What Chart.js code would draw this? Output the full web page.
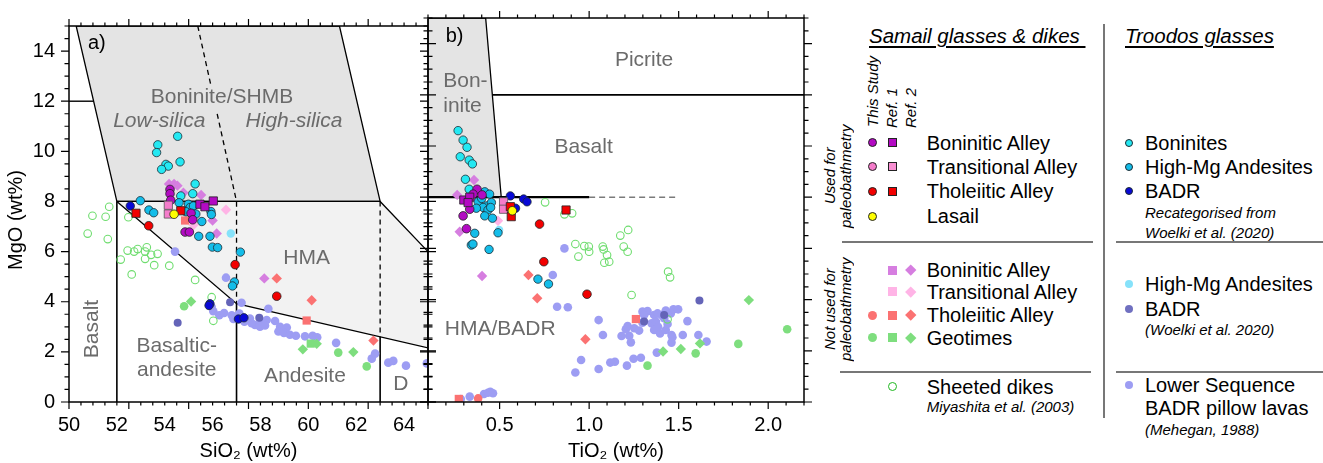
<!DOCTYPE html>
<html><head><meta charset="utf-8">
<script src="https://cdn.jsdelivr.net/npm/chart.js@4.4.1/dist/chart.umd.min.js"></script>
<style>
html,body{margin:0;padding:0;background:#fff;}
body{position:relative;width:1323px;height:463px;overflow:hidden;font-family:"Liberation Sans",Arial,Helvetica,sans-serif;color:#000;}
canvas{position:absolute;top:0;}
#ca{left:0;}
#cb{left:415px;}
.t{position:absolute;white-space:nowrap;font-size:20px;line-height:22px;}
.n{position:absolute;white-space:nowrap;font-size:15px;line-height:16px;font-style:italic;}
.h{position:absolute;white-space:nowrap;font-size:20.5px;line-height:22px;font-style:italic;text-decoration:underline;text-decoration-thickness:1.5px;text-underline-offset:3px;}
.v{position:absolute;white-space:nowrap;font-size:15px;line-height:16px;font-style:italic;writing-mode:vertical-rl;transform:rotate(180deg);text-align:center;}
.sym{position:absolute;box-sizing:border-box;width:9px;height:9px;}
.cb{border-radius:50%;border:1px solid #222;}
.sb{border:1px solid #222;}
.ci{border-radius:50%;}
.dm{width:7.5px;height:7.5px;transform:rotate(45deg);}
.tc{position:absolute;box-sizing:border-box;width:8px;height:8px;border-radius:50%;}
.hl{position:absolute;height:2px;background:#777;}
</style></head>
<body>
<canvas id="ca" width="440" height="463" style="width:440px;height:463px"></canvas>
<canvas id="cb" width="400" height="463" style="width:400px;height:463px"></canvas>

<!-- legend -->
<div class="h" style="left:869px;top:25px">Samail glasses &amp; dikes&nbsp;</div>
<div class="h" style="left:1125px;top:25px">Troodos glasses</div>
<div style="position:absolute;left:1103px;top:24px;width:2px;height:394px;background:#777"></div>
<div class="hl" style="left:842px;top:241px;width:251px"></div>
<div class="hl" style="left:1116px;top:241px;width:207px"></div>
<div class="hl" style="left:840px;top:371px;width:251px"></div>
<div class="hl" style="left:1116px;top:371px;width:207px"></div>

<div class="v" style="left:865px;bottom:336px">This Study</div>
<div class="v" style="left:884px;bottom:335px">Ref. 1</div>
<div class="v" style="left:903px;bottom:335px">Ref. 2</div>
<div class="v" style="left:822px;top:111px;height:130px">Used for<br>paleobathmetry</div>
<div class="v" style="left:822px;top:244px;height:130px">Not used for<br>paleobathmetry</div>

<div class="sym cb" style="left:867.8px;top:138.2px;background:#b30ac3"></div>
<div class="sym sb" style="left:887.8px;top:138.2px;background:#b30ac3"></div>
<div class="sym cb" style="left:867.8px;top:162.2px;background:#f57ccb"></div>
<div class="sym sb" style="left:887.8px;top:162.2px;background:#f88fd2"></div>
<div class="sym cb" style="left:867.8px;top:186.5px;background:#f20000"></div>
<div class="sym sb" style="left:887.8px;top:186.5px;background:#f20000"></div>
<div class="sym cb" style="left:867.8px;top:211.5px;background:#ffff00"></div>
<div class="t" style="left:926.7px;top:131.7px">Boninitic Alley</div>
<div class="t" style="left:926.7px;top:155.7px">Transitional Alley</div>
<div class="t" style="left:926.7px;top:180px">Tholeiitic Alley</div>
<div class="t" style="left:926.7px;top:205px">Lasail</div>

<div class="sym" style="left:887.8px;top:265.5px;background:#d67ee0"></div>
<div class="sym dm" style="left:907px;top:266.2px;background:#d67ee0"></div>
<div class="sym" style="left:887.8px;top:287.2px;background:#ffb4e6"></div>
<div class="sym dm" style="left:907px;top:288px;background:#ffb4e6"></div>
<div class="sym ci" style="left:867.8px;top:310.5px;background:#fb7272"></div>
<div class="sym" style="left:887.8px;top:310.5px;background:#fb7272"></div>
<div class="sym dm" style="left:907px;top:311.2px;background:#fb7272"></div>
<div class="sym ci" style="left:867.8px;top:333.2px;background:#7ede7e"></div>
<div class="sym" style="left:887.8px;top:333.2px;background:#7ede7e"></div>
<div class="sym dm" style="left:907px;top:334px;background:#7ede7e"></div>
<div class="t" style="left:926.7px;top:259px">Boninitic Alley</div>
<div class="t" style="left:926.7px;top:280.7px">Transitional Alley</div>
<div class="t" style="left:926.7px;top:304px">Tholeiitic Alley</div>
<div class="t" style="left:926.7px;top:326.7px">Geotimes</div>

<div class="sym ci" style="left:887.8px;top:382.2px;border:1.5px solid #1fb81f;background:#fff"></div>
<div class="t" style="left:926.7px;top:375.7px">Sheeted dikes</div>
<div class="n" style="left:926.7px;top:399.3px">Miyashita et al. (2003)</div>

<div class="tc" style="left:1125px;top:138.7px;background:#24e8f2;border:1px solid #1d2b33"></div>
<div class="tc" style="left:1125px;top:162.7px;background:#14bde9;border:1px solid #1d2b33"></div>
<div class="tc" style="left:1125px;top:187px;background:#0808d6;border:1px solid #1d2b33"></div>
<div class="t" style="left:1145px;top:131.7px">Boninites</div>
<div class="t" style="left:1145px;top:155.7px">High-Mg Andesites</div>
<div class="t" style="left:1145px;top:180px">BADR</div>
<div class="n" style="left:1145px;top:205px">Recategorised from</div>
<div class="n" style="left:1145px;top:225px">Woelki et al. (2020)</div>

<div class="tc" style="left:1125px;top:280.3px;background:#86e2fa"></div>
<div class="tc" style="left:1125px;top:305px;background:#7070c0"></div>
<div class="t" style="left:1145px;top:273.3px">High-Mg Andesites</div>
<div class="t" style="left:1145px;top:298px">BADR</div>
<div class="n" style="left:1145px;top:322px">(Woelki et al. 2020)</div>

<div class="tc" style="left:1125px;top:381px;background:#9d9df3"></div>
<div class="t" style="left:1145px;top:374px">Lower Sequence</div>
<div class="t" style="left:1145px;top:396.7px">BADR pillow lavas</div>
<div class="n" style="left:1145px;top:422px">(Mehegan, 1988)</div>

<script>
// ================= DATA =================
// tick labels
const xTicksA = [50, 52, 54, 56, 58, 60, 62, 64];
const xTicksB = [0.5, 1.0, 1.5, 2.0];
const yTicks = [0, 2, 4, 6, 8, 10, 12, 14];

// ---- Panel a: SiO2 (wt%) vs MgO (wt%) ----
const troBonA = [[54.54,10.6],[53.71,10.26],[53.66,9.95],[54.64,9.58],[54.05,9.48],[54.15,9.41],[53.87,9.28],[55.27,8.7],[54.67,8.22],[55.17,8.31]];
const troHmaA = [[52.98,8.03],[53.34,7.66],[53.54,7.55],[54.99,7.89],[55.06,7.76],[54.89,7.59],[55.2,7.82],[55.3,7.5],[55.55,7.2],[55.42,6.61],[55.89,6.61],[55.99,6.18],[56.21,6.16],[55.93,7.6],[55.95,7.48],[57.16,5.98],[56.91,4.79],[56.83,4.63],[54.6,7.95]];
const troBadrA = [[52.56,7.82],[55.89,3.92],[55.85,3.85],[57.08,3.31],[57.31,3.36]];
const troHmaWA = [[56.76,6.72]];
const troBadrWA = [[54.54,3.16],[56.73,3.98],[57.95,3.36]];
const lowSeqA = [[54.43,6.0],[56.56,4.96],[57.21,3.96],[58.33,3.72],[55.96,3.79],[56.03,3.62],[56.28,3.46],[56.48,3.55],[56.8,3.46],[56.87,3.31],[57.12,3.53],[57.33,3.2],[57.56,3.33],[57.77,3.07],[57.98,3.0],[58.05,3.2],[58.26,3.27],[58.61,3.23],[58.82,3.0],[59.1,2.97],[58.75,2.81],[58.98,2.75],[59.23,2.68],[59.48,2.64],[59.86,2.62],[60.18,2.64],[60.37,2.58],[61.16,2.36],[62.65,1.73],[62.79,1.93],[63.34,1.57],[63.55,1.64],[64.08,1.45],[64.95,1.54],[58.19,3.05],[57.63,3.14]];
const samBonA = [[54.22,8.48],[54.22,8.31],[54.25,8.05],[55.1,7.53],[55.17,7.27],[54.85,6.78],[55.03,6.78]];
const samBonRA = [[55.47,7.89],[55.68,7.79],[56.03,8.02]];
const samTraRA = [[54.15,7.85],[54.15,7.5]];
const samThoRA = [[54.67,7.63],[52.8,7.53]];
const samThoA = [[53.33,7.03],[56.94,5.48],[58.68,4.22]];
const lasailA = [[54.39,7.49]];
const nuBonDA = [[54.18,8.7],[54.39,8.7],[54.53,8.63],[54.78,8.35],[55.52,8.26],[56.0,7.24],[56.17,6.72],[58.16,4.93]];
const nuTraDA = [[56.56,7.67],[55.2,7.06]];
const nuThoSA = [[54.85,7.24],[59.93,3.25]];
const nuThoDA = [[58.68,4.93],[60.14,4.06],[62.72,2.45]];
const geoCA = [[54.81,3.82],[61.25,1.97],[62.44,1.42]];
const geoDA = [[55.1,4.01],[59.77,2.1],[61.88,1.99],[60.35,2.32]];
const geoSA = [[60.1,2.33]];
const dikesA = [[50.78,6.72],[51.62,6.5],[52.16,5.68],[52.45,6.04],[52.72,6.0],[52.87,6.1],[53.18,6.0],[53.25,6.17],[53.43,5.87],[53.18,5.71],[53.7,5.91],[53.56,5.46],[54.19,5.44],[52.62,5.09],[55.27,4.87],[55.96,4.18],[56.03,3.24],[50.98,7.43],[51.53,7.39],[51.68,7.79],[52.48,7.37]];

// ---- Panel b: TiO2 (wt%) vs MgO (wt%) ----
const troBonB = [[0.268,10.6],[0.296,10.23],[0.318,9.95],[0.28,9.58],[0.33,9.45],[0.348,9.3],[0.309,8.7],[0.33,8.31]];
const troHmaB = [[0.417,8.21],[0.444,8.12],[0.38,7.82],[0.426,7.66],[0.408,7.6],[0.37,7.57],[0.454,7.79],[0.435,7.5],[0.417,7.27],[0.46,7.18],[0.361,6.59],[0.491,6.61],[0.342,6.13],[0.351,6.17],[0.441,5.96],[0.714,4.8],[0.773,4.61],[0.40,7.95],[0.45,7.6]];
const troBadrB = [[0.56,8.05],[0.634,7.93],[0.653,7.82],[0.589,7.57]];
const troHmaWB = [[0.497,6.72]];
const troBadrWB = [[1.307,3.14],[1.419,3.4],[1.616,3.96]];
const lowSeqB = [[0.862,6.0],[0.821,3.72],[0.881,3.7],[1.053,3.2],[1.077,2.62],[0.923,1.15],[0.955,1.64],[1.053,1.29],[1.118,1.54],[1.144,1.57],[1.211,1.42],[1.248,1.69],[1.289,1.73],[1.181,2.58],[1.224,2.59],[1.233,2.33],[1.205,2.84],[1.215,2.97],[1.252,2.88],[1.279,2.79],[1.298,3.1],[1.298,3.53],[1.326,3.55],[1.307,3.4],[1.349,3.07],[1.363,3.4],[1.382,3.46],[1.373,3.14],[1.385,2.94],[1.363,2.81],[1.396,2.68],[1.428,2.81],[1.438,3.05],[1.419,3.27],[1.404,3.4],[1.428,3.57],[1.456,3.46],[1.471,3.62],[1.497,3.62],[1.46,2.62],[1.465,2.53],[1.46,2.32],[1.523,2.62],[1.549,3.16],[1.61,2.62],[1.656,2.36],[1.378,1.93],[0.283,0.12],[0.333,0.21],[0.413,0.31],[0.435,0.36],[0.448,0.4],[0.463,0.34],[0.797,4.96]];
const samBonB = [[0.374,8.31],[0.352,8.12],[0.402,8.09],[0.333,7.53],[0.296,7.27],[0.315,6.77]];
const samBonRB = [[0.3,7.89],[0.333,8.0],[0.324,7.79]];
const samTraRB = [[0.522,7.82],[0.522,7.53]];
const samThoRB = [[0.56,7.63],[0.565,7.24],[0.871,7.5]];
const samThoB = [[0.723,6.95],[0.747,5.48],[0.988,4.21]];
const lasailB = [[0.571,7.47]];
const nuBonDB = [[0.357,8.67],[0.263,8.09],[0.277,6.65],[0.402,4.92]];
const nuTraDB = [[0.491,7.08]];
const nuThoDB = [[0.661,4.96],[0.71,4.05],[0.979,2.45]];
const nuThoSB = [[1.261,3.24],[0.272,0.12]];
const nuThoCB = [[0.38,0.14]];
const geoCB = [[2.106,2.84],[1.833,2.27],[1.595,1.9],[1.326,1.42]];
const geoDB = [[1.892,3.98],[1.413,1.97],[1.512,2.07],[1.619,2.29]];
const dikesB = [[0.923,6.17],[0.94,5.68],[0.973,6.09],[1.0,5.87],[0.998,6.07],[1.076,6.07],[1.081,5.96],[1.1,5.74],[1.085,5.44],[1.112,5.48],[1.174,6.5],[1.218,6.72],[1.193,6.07],[1.215,5.87],[1.441,5.09],[1.452,4.87],[1.237,4.18],[1.438,3.23],[0.754,7.8],[0.862,7.33],[0.905,7.37]];

// ---- classification field boundaries (data coordinates) ----
const grayFieldA = [[50.3,15],[61.3,15],[63,8],[52,8],[50.3,15]];
const hmaFieldA = [[52,8],[63,8],[65,6.0],[65,2.16],[57,3.92],[52,8]];
const line12A = [[50,12],[51.02,12]];
const line52A = [[52,8],[52,0]];
const dash57A = [[55.38,15],[57,8],[57,3.92]];
const line57A = [[57,3.92],[57,0]];
const dash63A = [[63,8],[63,2.6]];
const line63A = [[63,2.6],[63,0]];
const grayFieldB = [[0.1,15],[0.422,15],[0.509,8],[0.1,8],[0.1,15]];
const line12B = [[0.46,12],[2.2,12]];
const line8B = [[0.1,8],[1.0,8]];
const dash8B = [[1.0,8],[1.5,8]];

// ================= RENDERING =================
const FONT = '"Liberation Sans", Arial, sans-serif';
Chart.defaults.font.family = FONT;

const P = a => a.map(([x, y]) => ({x, y}));
function pts(data, o) {
  return {data: P(data), showLine: false,
    pointStyle: o.s || 'circle', pointRadius: o.r || 4.2, pointHoverRadius: o.r || 4.2,
    pointBackgroundColor: o.bg, pointBorderColor: o.bc || o.bg, pointBorderWidth: o.bw || 0,
    backgroundColor: o.bg, borderColor: o.bc || o.bg};
}
function shape(data, fillCol, color, w, dash) {
  return {data: P(data), showLine: true, fill: fillCol ? 'shape' : false,
    backgroundColor: fillCol || 'rgba(0,0,0,0)', borderColor: color, borderWidth: w,
    borderDash: dash || [], pointRadius: 0, pointHoverRadius: 0, tension: 0};
}
const S = {
  troBon: {bg:'#24e8f2', bc:'#1d2b33', bw:0.8, r:4.2},
  troHma: {bg:'#14bde9', bc:'#1d2b33', bw:0.8, r:4.2},
  troBadr: {bg:'#0808d6', bc:'#1d2b33', bw:0.8, r:4.2},
  troHmaW: {bg:'#86e2fa', r:4.2},
  troBadrW: {bg:'#6464b8', r:4},
  lowSeq: {bg:'#9d9df3', r:4.3},
  samBon: {bg:'#b30ac3', bc:'#222', bw:0.8, r:4.3},
  samBonR: {bg:'#b30ac3', bc:'#222', bw:0.8, r:5.8, s:'rect'},
  samTraR: {bg:'#f57ccb', bc:'#555', bw:0.8, r:5.8, s:'rect'},
  samThoR: {bg:'#f20000', bc:'#222', bw:0.8, r:5.8, s:'rect'},
  samTho: {bg:'#f20000', bc:'#222', bw:0.8, r:4.3},
  lasail: {bg:'#ffff00', bc:'#222', bw:0.8, r:4.3},
  nuBonD: {bg:'#d67ee0', r:5.2, s:'rectRot'},
  nuTraD: {bg:'#ffb4e6', r:5.2, s:'rectRot'},
  nuThoD: {bg:'#fb7272', r:5.2, s:'rectRot'},
  nuThoS: {bg:'#fb7272', r:5.8, s:'rect'},
  nuThoC: {bg:'#fb7272', r:4.3},
  geoC: {bg:'#7ede7e', r:4.3},
  geoD: {bg:'#7ede7e', r:5.2, s:'rectRot'},
  geoS: {bg:'#7ede7e', r:5.8, s:'rect'},
  dikes: {bg:'rgba(255,255,255,0)', bc:'#6fdd6f', bw:1.1, r:3.8}
};
const GRAY = '#e4e4e4', LIGHT = '#f2f2f2';

const dsA = [
  pts(lasailA, S.lasail), pts(samThoA, S.samTho), pts(samThoRA, S.samThoR), pts(samTraRA, S.samTraR),
  pts(samBonRA, S.samBonR), pts(samBonA, S.samBon), pts(troBadrA, S.troBadr), pts(troHmaA, S.troHma),
  pts(troBonA, S.troBon), pts(troHmaWA, S.troHmaW), pts(nuThoSA, S.nuThoS), pts(nuThoDA, S.nuThoD),
  pts(nuTraDA, S.nuTraD), pts(nuBonDA, S.nuBonD), pts(geoSA, S.geoS), pts(geoDA, S.geoD), pts(geoCA, S.geoC),
  pts(troBadrWA, S.troBadrW), pts(dikesA, S.dikes), pts(lowSeqA, S.lowSeq),
  shape(line12A, null, '#000', 1.4), shape(line52A, null, '#000', 1.6),
  shape(dash57A, null, '#000', 1.3, [5, 4]), shape(line57A, null, '#000', 1.6),
  shape(dash63A, null, '#000', 1.3, [5, 4]), shape(line63A, null, '#000', 1.6),
  shape(hmaFieldA, LIGHT, '#000', 1.3), shape(grayFieldA, GRAY, '#000', 1.3)
];
const dsB = [
  pts(lasailB, S.lasail), pts(samThoB, S.samTho), pts(samThoRB, S.samThoR), pts(samTraRB, S.samTraR),
  pts(samBonRB, S.samBonR), pts(samBonB, S.samBon), pts(troBadrB, S.troBadr), pts(troHmaB, S.troHma),
  pts(troBonB, S.troBon), pts(troHmaWB, S.troHmaW), pts(nuThoSB, S.nuThoS), pts(nuThoCB, S.nuThoC),
  pts(nuThoDB, S.nuThoD), pts(nuTraDB, S.nuTraD), pts(nuBonDB, S.nuBonD), pts(geoDB, S.geoD), pts(geoCB, S.geoC),
  pts(troBadrWB, S.troBadrW), pts(dikesB, S.dikes), pts(lowSeqB, S.lowSeq),
  shape(line12B, null, '#000', 1.7), shape(line8B, null, '#000', 2.2),
  shape(dash8B, null, '#7a7a7a', 1.6, [6, 4]),
  shape(grayFieldB, GRAY, '#000', 1.3)
];

// plugin: field labels, frame, tick marks
const panelPlugin = {
  id: 'panel',
  afterDatasetsDraw(chart, args, opts) {
    const {ctx, chartArea: a, scales: {x, y}} = chart;
    ctx.save();
    (opts.labels || []).forEach(it => {
      const px = x.getPixelForValue(it.x), py = y.getPixelForValue(it.y);
      ctx.font = (it.italic ? 'italic ' : '') + (it.size || 21) + 'px ' + FONT;
      ctx.fillStyle = it.color || '#6b6b6b';
      ctx.textAlign = it.align || 'center';
      ctx.textBaseline = 'middle';
      if (it.bg) {
        const w = ctx.measureText(it.t).width;
        ctx.save(); ctx.fillStyle = it.bg;
        ctx.fillRect(px - w / 2 - 3, py - 13, w + 6, 26);
        ctx.restore();
      }
      if (it.rot) {
        ctx.save(); ctx.translate(px, py); ctx.rotate(it.rot);
        ctx.fillText(it.t, 0, 0); ctx.restore();
      } else ctx.fillText(it.t, px, py);
    });
    // frame
    ctx.strokeStyle = '#000';
    ctx.lineWidth = 1.5;
    ctx.strokeRect(a.left, a.top, a.right - a.left, a.bottom - a.top);
    // ticks
    const tk = opts.ticks;
    ctx.lineWidth = 1.2;
    ctx.beginPath();
    const nx = Math.round((tk.xMax - tk.xMin) / tk.xMinor);
    for (let i = 0; i <= nx; i++) {
      const v = tk.xMin + i * tk.xMinor;
      const r = v / tk.xMajor;
      const L = Math.abs(r - Math.round(r)) < 1e-6 ? 7 : 3.5;
      const px = x.getPixelForValue(v);
      ctx.moveTo(px, a.bottom); ctx.lineTo(px, a.bottom + L);
      ctx.moveTo(px, a.top); ctx.lineTo(px, a.top - L);
    }
    for (let i = 0; i <= 30; i++) {
      const v = i * 0.5;
      const L = (i % 4 === 0) ? 8 : 4.5;
      const py = y.getPixelForValue(v);
      ctx.moveTo(a.left - L, py); ctx.lineTo(a.left + (tk.leftBoth ? L : 0), py);
      ctx.moveTo(a.right - (tk.rightBoth ? L : 0), py); ctx.lineTo(a.right + L, py);
    }
    ctx.stroke();
    if (opts.yTitle) {
      ctx.save();
      ctx.translate(opts.yTitle.x, opts.yTitle.y);
      ctx.rotate(-Math.PI / 2);
      ctx.font = '20px ' + FONT;
      ctx.fillStyle = '#000';
      ctx.textAlign = 'center'; ctx.textBaseline = 'middle';
      ctx.fillText(opts.yTitle.t, 0, 0);
      ctx.restore();
    }
    ctx.restore();
  }
};

const labelsA = [
  {t:'a)', x:50.79, y:14.29, align:'left', color:'#000', size:20},
  {t:'Boninite/SHMB', x:56.39, y:12.16, bg:GRAY},
  {t:'Low-silica', x:53.77, y:11.19, italic:true},
  {t:'High-silica', x:59.4, y:11.19, italic:true},
  {t:'HMA', x:59.93, y:5.74},
  {t:'Basalt', x:50.98, y:2.91, rot:-Math.PI / 2},
  {t:'Basaltic-', x:54.5, y:2.23},
  {t:'andesite', x:54.5, y:1.28},
  {t:'Andesite', x:59.86, y:1.02},
  {t:'D', x:63.87, y:0.7}
];
const labelsB = [
  {t:'b)', x:0.199, y:14.29, align:'left', color:'#000', size:20},
  {t:'Bon-', x:0.185, y:12.55, align:'left'},
  {t:'inite', x:0.185, y:11.57, align:'left'},
  {t:'Picrite', x:1.307, y:13.36},
  {t:'Basalt', x:0.969, y:9.97},
  {t:'HMA/BADR', x:0.503, y:2.84}
];

function baseOptions(padLeft, padRight) {
  return {
    responsive: false, animation: false, devicePixelRatio: 1, events: [],
    layout: {padding: {left: padLeft, right: padRight, top: 18, bottom: 0}},
    plugins: {legend: {display: false}, tooltip: {enabled: false}}
  };
}

const optA = baseOptions(0, 12);
optA.plugins.panel = {labels: labelsA,
  ticks: {xMin: 50, xMax: 65, xMinor: 0.5, xMajor: 2.5, rightBoth: true},
  yTitle: {t: 'MgO (wt%)', x: 16, y: 220}};
optA.scales = {
  x: {type: 'linear', position: 'bottom', min: 50, max: 65,
    afterFit: s => { s.height = 61; },
    afterBuildTicks: s => { s.ticks = xTicksA.map(v => ({value: v})); },
    grid: {display: false, drawTicks: false}, border: {display: false},
    ticks: {color: '#000', font: {size: 20}, padding: 11, maxRotation: 0, autoSkip: false},
    title: {display: true, text: 'SiO\u2082 (wt%)', color: '#000', font: {size: 20}, padding: {top: 0, bottom: 0}}},
  y: {type: 'linear', position: 'left', min: 0, max: 15,
    afterFit: s => { s.width = 69; },
    afterBuildTicks: s => { s.ticks = yTicks.map(v => ({value: v})); },
    grid: {display: false, drawTicks: false}, border: {display: false},
    ticks: {color: '#000', font: {size: 20}, padding: 14, autoSkip: false}}
};

const optB = baseOptions(13, 11);
optB.plugins.panel = {labels: labelsB,
  ticks: {xMin: 0.1, xMax: 2.2, xMinor: 0.1, xMajor: 0.5, leftBoth: true}};
optB.scales = {
  x: {type: 'linear', position: 'bottom', min: 0.1, max: 2.2,
    afterFit: s => { s.height = 61; },
    afterBuildTicks: s => { s.ticks = xTicksB.map(v => ({value: v})); },
    grid: {display: false, drawTicks: false}, border: {display: false},
    ticks: {color: '#000', font: {size: 20}, padding: 11, maxRotation: 0, autoSkip: false,
      callback: v => Number(v).toFixed(1)},
    title: {display: true, text: 'TiO\u2082 (wt%)', color: '#000', font: {size: 20}, padding: {top: 0, bottom: 0}}},
  y: {type: 'linear', display: false, min: 0, max: 15}
};

new Chart(document.getElementById('ca'), {type: 'scatter', data: {datasets: dsA}, options: optA, plugins: [panelPlugin]});
new Chart(document.getElementById('cb'), {type: 'scatter', data: {datasets: dsB}, options: optB, plugins: [panelPlugin]});
</script>
</body></html>
